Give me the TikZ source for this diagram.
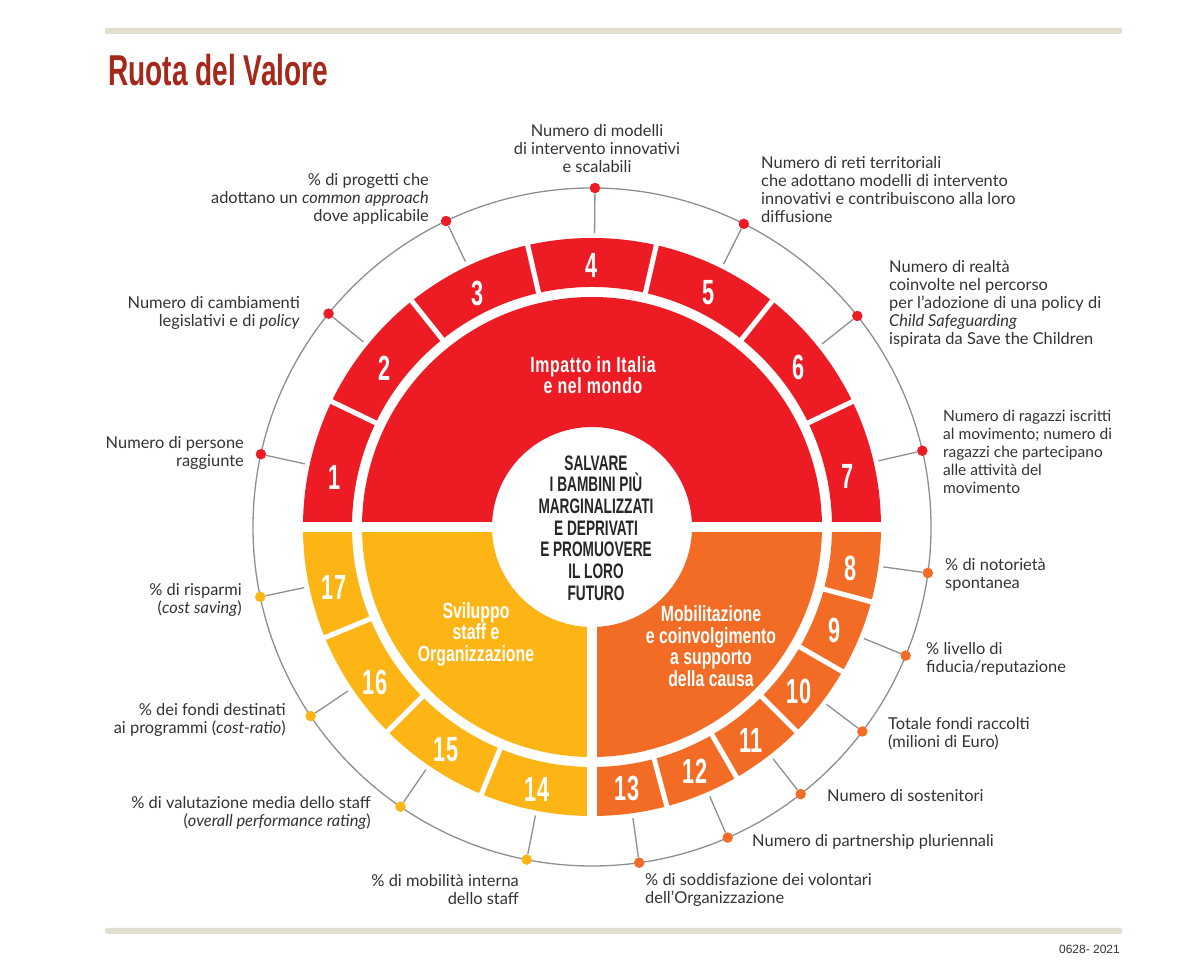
\documentclass[tikz,border=0pt]{standalone}
\usepackage{fontspec}
\setmainfont{Lato}
\newfontfamily\cond[FakeStretch=0.65]{Liberation Sans Bold}
\newfontfamily\condw[FakeStretch=0.72,LetterSpace=3]{Liberation Sans Bold}
\newfontfamily\condt[FakeStretch=0.72]{Liberation Sans Bold}
\newfontfamily\condn[FakeStretch=0.62]{Liberation Sans Bold}
\newfontfamily\arial{Liberation Sans}
\definecolor{cred}{HTML}{ED1C24}
\definecolor{corange}{HTML}{F36C25}
\definecolor{cyellow}{HTML}{FDB415}
\definecolor{ctitle}{HTML}{A5281B}
\definecolor{cbar}{HTML}{E3DFCF}
\definecolor{cline}{HTML}{8F8F8F}
\definecolor{ctext}{HTML}{333333}
\newcommand{\sect}[5]{\fill[#5] (#1:#3) arc[start angle=#1,end angle=#2,radius=#3] -- (#2:#4) arc[start angle=#2,end angle=#1,radius=#4] -- cycle;}
\tikzset{
 lab/.style={font=\fontsize{16.4}{18}\selectfont,text=ctext,inner sep=0pt,align=left},
 labl/.style={lab,anchor=west,align=left},
 labr/.style={lab,anchor=east,align=right},
 num/.style={font=\condn\fontsize{35}{35}\selectfont,text=white,inner sep=0pt},
 wedge/.style={font=\condw\fontsize{22}{21.5}\selectfont,text=white,inner sep=0pt,align=center},
 wedgen/.style={font=\condt\fontsize{22}{21.5}\selectfont,text=white,inner sep=0pt,align=center},
 ctr/.style={font=\cond\fontsize{21}{21.7}\selectfont,text=black!85,inner sep=0pt,align=center},
 dot/.style={circle,fill=#1,inner sep=0pt,minimum size=10.5pt},
 lead/.style={draw=cline,line width=1.3pt},
 sep/.style={white,line width=5pt},
}
\begin{document}
\begin{tikzpicture}[x=1pt,y=1pt]
\useasboundingbox (0,0) rectangle (1200,973);
\fill[white] (0,0) rectangle (1200,973);
\fill[cbar,rounded corners=2pt] (105,939) rectangle (1122,945);
\fill[cbar,rounded corners=2pt] (105,39) rectangle (1122,45);
\node[anchor=base west,inner sep=0pt,font=\cond\fontsize{43.2}{43.2}\selectfont,text=ctitle] (title) at (108,887) {Ruota del Valore};
\node[anchor=east,inner sep=0pt,font=\arial\fontsize{12}{12}\selectfont,text=ctext] (code) at (1120,24) {0628- 2021};
\begin{scope}[shift={(592,446)}]
\coordinate (c) at (0,0);
\draw[cline,line width=1.3pt] (c) circle[radius=339];
\sect{0}{180}{100}{230}{cred}
\sect{180}{270}{100}{230}{cyellow}
\sect{270}{360}{100}{230}{corange}
\sect{0}{180}{240}{289}{cred}
\sect{180}{270}{240}{289}{cyellow}
\sect{270}{360}{240}{289}{corange}
\foreach \a in {25.714,51.429,77.143,102.857,128.571,154.286,285,300,315,330,345,202.5,225,247.5}{
  \draw[sep] (\a:238) -- (\a:291);
}
\fill[white] (-292,-5.3) rectangle (292,5.3);
\fill[white] (-5,-292) rectangle (5,0);
\foreach \n/\a/\col in {1/167.6/cred,2/141/cred,3/115.5/cred,4/89.5/cred,5/63.4/cred,6/38.5/cred,7/13/cred,
 8/-7.8/corange,9/-22.3/corange,10/-37.1/corange,11/-52/corange,12/-66.4/corange,13/-82/corange,
 14/258.9/cyellow,15/235.6/cyellow,16/213.9/cyellow,17/191.9/cyellow}{
  \coordinate (e\n) at (\a:294);
  \node[dot=\col] (d\n) at (\a:339) {};
  \draw[lead] (e\n) -- (d\n);
}
\end{scope}
\foreach \n/\x/\y in {1/335/477,2/385/368,3/478/293,4/592/265,5/709/293,6/799/367,7/848/476,
 8/851/568,9/835/630,10/799/691,11/751/740,12/695/771,13/627/788,14/537/789,15/446/750,16/375/682,17/334/587}{
  \node[num] (n\n) at (\x,973-\y) {\n};
}
\node[ctr] (centre) at (596,445) {SALVARE\\I BAMBINI PIÙ\\MARGINALIZZATI\\E DEPRIVATI\\E PROMUOVERE\\IL LORO\\FUTURO};
\node[wedge] (w1) at (593,598) {Impatto in Italia\\e nel mondo};
\node[wedgen] (w2) at (711,327) {Mobilitazione\\e coinvolgimento\\a supporto\\della causa};
\node[wedgen] (w3) at (476,339) {Sviluppo\\staff e\\Organizzazione};
\node[lab,align=center] (l4) at (597,824) {Numero di modelli\\di intervento innovativi\\e scalabili};
\node[labr] (l3) at (429,774) {\% di progetti che\\adottano un \textit{common approach}\\dove applicabile};
\node[labl] (l5) at (761,783) {Numero di reti territoriali\\che adottano modelli di intervento\\innovativi e contribuiscono alla loro\\diffusione};
\node[labl] (l6) at (889,669) {Numero di realtà\\coinvolte nel percorso\\per l’adozione di una policy di\\\textit{Child Safeguarding}\\ispirata da Save the Children};
\node[labl,font=\fontsize{15.5}{18}\selectfont] (l7) at (943,521) {Numero di ragazzi iscritti\\al movimento; numero di\\ragazzi che partecipano\\alle attività del\\movimento};
\node[labr] (l2) at (300,660) {Numero di cambiamenti\\legislativi e di \textit{policy}};
\node[labr] (l1) at (244,520) {Numero di persone\\raggiunte};
\node[labr] (l17) at (242,373) {\% di risparmi\\(\textit{cost saving})};
\node[labr] (l16) at (286,253) {\% dei fondi destinati\\ai programmi (\textit{cost-ratio})};
\node[labr] (l15) at (371,160) {\% di valutazione media dello staff\\(\textit{overall performance rating})};
\node[labr] (l14) at (519,83) {\% di mobilità interna\\dello staff};
\node[labl] (l13) at (645,83) {\% di soddisfazione dei volontari\\dell’Organizzazione};
\node[labl] (l12) at (752,131) {Numero di partnership pluriennali};
\node[labl] (l11) at (827,177) {Numero di sostenitori};
\node[labl] (l10) at (888,239) {Totale fondi raccolti\\(milioni di Euro)};
\node[labl] (l9) at (926,314) {\% livello di\\fiducia/reputazione};
\node[labl] (l8) at (945,398) {\% di notorietà\\spontanea};
\end{tikzpicture}
\end{document}
